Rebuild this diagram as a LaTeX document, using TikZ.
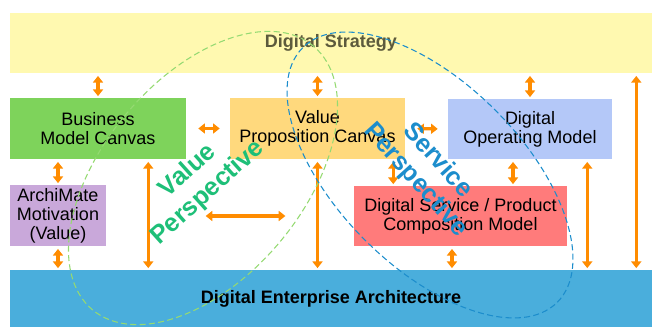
\documentclass[tikz,border=0pt]{standalone}
\usepackage{fontspec}
\setmainfont{Liberation Sans}
\usetikzlibrary{arrows.meta}
\definecolor{stratyellow}{HTML}{FFF9B0}
\definecolor{stratgray}{HTML}{5C5A3C}
\definecolor{bmcgreen}{HTML}{7ED35B}
\definecolor{vpcyellow}{HTML}{FFD97D}
\definecolor{domblue}{HTML}{B4C8F8}
\definecolor{motivpurple}{HTML}{C9A8DA}
\definecolor{dsred}{HTML}{FF7B7B}
\definecolor{deablue}{HTML}{4AAEDC}
\definecolor{arrorange}{HTML}{FF8C00}
\definecolor{vpgreen}{HTML}{1EBF78}
\definecolor{vpdash}{HTML}{95DA72}
\definecolor{spblue}{HTML}{1C8DCC}

\begin{document}
\begin{tikzpicture}[x=0.75pt, y=0.75pt,
    box/.style={rectangle, inner sep=0pt, align=center, font=\fontsize{13.5}{14.25}\selectfont},
    band/.style={rectangle, inner sep=0pt, minimum width=481.5pt, font=\bfseries\fontsize{13.5}{14.25}\selectfont},
    arr/.style={draw=arrorange, line width=2.4pt, {Triangle[width=7.5pt,length=5pt]}-{Triangle[width=7.5pt,length=5pt]}, shorten <=2pt, shorten >=1.2pt},
    harr/.style={arr, shorten <=9pt, shorten >=7.5pt},
    persp/.style={font=\bfseries\fontsize{19}{22}\selectfont, align=center},
    ]
    \useasboundingbox (0,0) rectangle (652,327);
    \node[band, fill=stratyellow, minimum height=45pt, text=stratgray] (strategy) at (331,284) {Digital Strategy};
    \node[band, fill=deablue, minimum height=42.75pt] (dea) at (331,28.5) {Digital Enterprise Architecture};
    \node[box, fill=bmcgreen, minimum width=132pt, minimum height=45.75pt] (bmc) at (98,198.5) {Business\\Model Canvas};
    \node[box, fill=vpcyellow, minimum width=131.25pt, minimum height=45.75pt] (vpc) at (317.5,198.5) {Value\\Proposition Canvas};
    \node[box, fill=domblue, minimum width=123pt, minimum height=45pt] (dom) at (530,198) {Digital\\Operating Model};
    \node[box, fill=motivpurple, minimum width=72pt, minimum height=45.75pt] (motiv) at (58,111.5) {ArchiMate\\Motivation\\(Value)};
    \node[box, fill=dsred, minimum width=159.75pt, minimum height=45pt] (dspcm) at (460.5,111) {Digital Service / Product\\Composition Model};
    \coordinate (midl) at (203,111);
    \coordinate (midr) at (287,111);

    \draw[arr] (strategy.south -| bmc.north) -- (bmc.north);
    \draw[arr] (strategy.south -| vpc.north) -- (vpc.north);
    \draw[arr] (strategy.south -| dom.north) -- (dom.north);
    \draw[arr] ([xshift=-12pt]strategy.south east) -- ([xshift=-12pt]strategy.south east |- dea.north);
    \draw[harr] (bmc.east) -- (vpc.west);
    \draw[harr] (vpc.east) -- (dom.west);
    \draw[arr] (bmc.south -| motiv.north) -- (motiv.north);
    \draw[arr] (motiv.south) -- (motiv.south |- dea.north);
    \draw[arr] ([xshift=-28.5pt]bmc.south east) -- ([xshift=-28.5pt]bmc.south east |- dea.north);
    \draw[arr] (midl) -- (midr);
    \draw[arr] (vpc.south) -- (vpc.south |- dea.north);
    \draw[arr] ([xshift=-9pt]vpc.south east) -- ([xshift=-9pt]vpc.south east |- dspcm.north);
    \draw[arr] ([xshift=-12.75pt]dom.south) -- ([xshift=-12.75pt]dom.south |- dspcm.north);
    \draw[arr] ([xshift=-18.75pt]dom.south east) -- ([xshift=-18.75pt]dom.south east |- dea.north);
    \draw[arr] ([xshift=-6.4pt]dspcm.south) -- ([xshift=-6.4pt]dspcm.south |- dea.north);

    \draw[vpdash, line width=0.8pt, dash pattern=on 4.5pt off 2.5pt] (203,149) ellipse [x radius=129pt, y radius=75pt, rotate=50];
    \draw[spblue, line width=0.8pt, dash pattern=on 4.5pt off 2.5pt] (430,152) ellipse [x radius=135pt, y radius=69pt, rotate=-45];

    \node[persp, text=vpgreen, rotate=42] (vp) at (198,145) {Value\\Perspective};
    \node[persp, text=spblue, rotate=-48] (sp) at (426.5,156.5) {Service\\Perspective};
  \end{tikzpicture}
\end{document}
